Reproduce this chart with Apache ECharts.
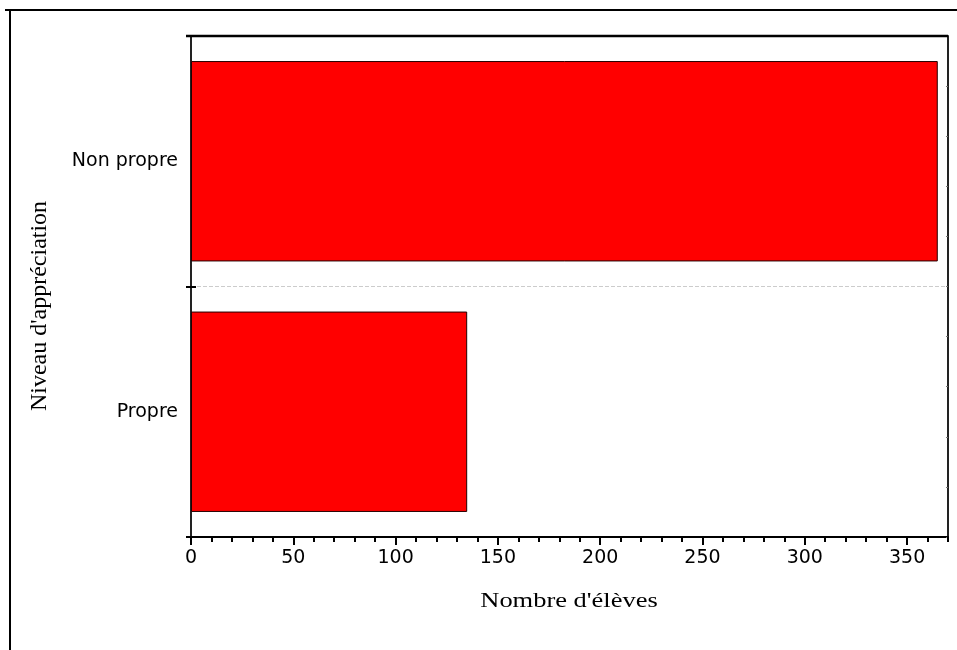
<!DOCTYPE html>
<html>
<head>
<meta charset="utf-8">
<script src="https://cdn.jsdelivr.net/npm/echarts@6/dist/echarts.min.js"></script>
<style>html,body{margin:0;padding:0;background:#fff;}#chart{width:957px;height:650px;}</style>
</head>
<body>
<div id="chart"></div>
<script>
const categories = ['Propre', 'Non propre'];
const values = [135, 365];
const xTitle = "Nombre d'élèves";
const yTitle = "Niveau d'appréciation";
const xMin = 0, xMax = 370, xMajor = 50, xMinor = 10;

const chart = echarts.init(document.getElementById('chart'));
const sans = 'DejaVu Sans, Arial, sans-serif';
const serif = 'Liberation Serif, Times New Roman, serif';
chart.setOption({
  animation: false,
  backgroundColor: '#fff',
  grid: { left: 191, right: 9, top: 36, bottom: 113, containLabel: false },
  graphic: [
    { type: 'line', z: 100, shape: { x1: 5, y1: 10, x2: 957, y2: 10 }, style: { stroke: '#000', lineWidth: 2 } },
    { type: 'line', z: 100, shape: { x1: 10, y1: 10, x2: 10, y2: 650 }, style: { stroke: '#000', lineWidth: 2 } },
    { type: 'line', z: 100, shape: { x1: 186, y1: 36, x2: 948, y2: 36 }, style: { stroke: '#000', lineWidth: 2.5 } },
    { type: 'text', z: 100, position: [569, 601], scaleX: 1.26, style: { text: xTitle, font: '21px ' + serif, fill: '#000', textAlign: 'center', textVerticalAlign: 'middle' } },
    { type: 'text', z: 100, rotation: Math.PI / 2, position: [40, 306], style: { text: yTitle, font: '24px ' + serif, fill: '#000', textAlign: 'center', textVerticalAlign: 'middle' } }
  ],
  xAxis: [
    { type: 'value', position: 'bottom', min: xMin, max: xMax, interval: xMajor,
      axisLine: { show: true, lineStyle: { color: '#000', width: 2 } },
      axisTick: { show: true, length: 8, lineStyle: { color: '#000', width: 2 } },
      axisLabel: { show: true, showMaxLabel: false, color: '#000', fontSize: 19, fontFamily: sans, margin: 12 },
      splitLine: { show: false } },
    { type: 'value', position: 'bottom', min: xMin, max: xMax, interval: xMinor,
      axisLine: { show: false },
      axisTick: { show: true, length: 5, lineStyle: { color: '#000', width: 2 } },
      axisLabel: { show: false }, splitLine: { show: false } }
  ],
  yAxis: [
    { type: 'category', data: categories, position: 'left', boundaryGap: true,
      axisLine: { show: true, lineStyle: { color: '#222', width: 2 } },
      axisTick: { show: true, length: 5, lineStyle: { color: '#000', width: 2 } },
      axisLabel: { show: true, color: '#000', fontSize: 19, fontFamily: sans, margin: 13 },
      splitLine: { show: true, lineStyle: { color: '#ccc', type: 'dashed', width: 1 } } },
    { type: 'category', data: categories, position: 'left', boundaryGap: true,
      axisLine: { show: false },
      axisTick: { show: true, inside: true, length: 5, lineStyle: { color: '#000', width: 2 } },
      axisLabel: { show: false }, splitLine: { show: false } },
    { type: 'value', position: 'right', min: 0, max: 10, interval: 1,
      axisLine: { show: true, lineStyle: { color: '#222', width: 2 } },
      axisTick: { show: true, inside: true, length: 2, lineStyle: { color: '#777', width: 1 } },
      axisLabel: { show: false }, splitLine: { show: false } }
  ],
  series: [{
    type: 'bar', xAxisIndex: 0, yAxisIndex: 0, data: values,
    barCategoryGap: '20%',
    itemStyle: { color: '#ff0000', borderColor: '#200', borderWidth: 1 }
  }]
});
</script>
</body>
</html>
